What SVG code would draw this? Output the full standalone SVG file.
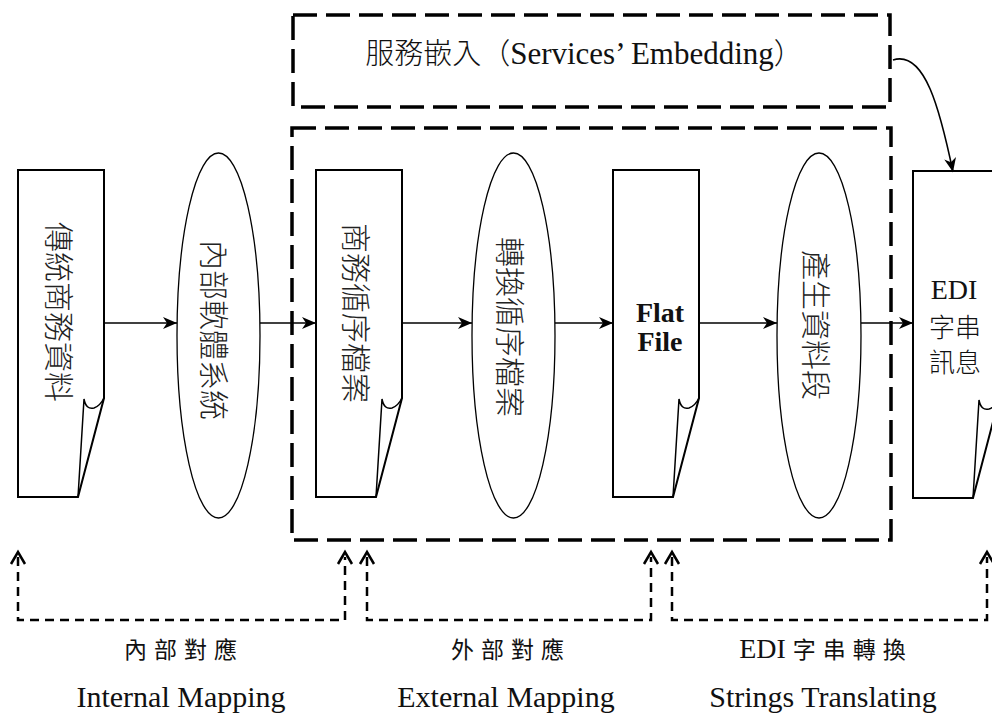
<svg xmlns="http://www.w3.org/2000/svg" xmlns:xlink="http://www.w3.org/1999/xlink" width="992" height="717" viewBox="0 0 992 717">
<style>
.doc{fill:#fff;stroke:#000;stroke-width:2;stroke-linejoin:miter}
.curl{fill:none;stroke:#000;stroke-width:1.5}
.ell{fill:#fff;stroke:#000;stroke-width:1.3}
.vt{font-family:"Noto Sans CJK TC","Noto Sans CJK SC",sans-serif;font-weight:300;font-size:30px;fill:#222}
.flow{stroke:#000;stroke-width:1.6;fill:none;marker-end:url(#ah)}
.bigdash{fill:none;stroke:#000;stroke-width:3.5;stroke-dasharray:24 9}
.map{fill:none;stroke:#000;stroke-width:2.5;stroke-dasharray:9 6}
.chev{fill:none;stroke:#000;stroke-width:2.5}
.cjk{font-family:"Noto Sans CJK TC","Noto Sans CJK SC",sans-serif;fill:#111}
.lat{font-family:"Liberation Serif",serif;fill:#111}
</style>
<defs>
<marker id="ah" markerUnits="userSpaceOnUse" markerWidth="16" markerHeight="12" refX="14" refY="6" orient="auto">
<path d="M0,0 L14,6 L0,12 L4,6 Z" fill="#000"/>
</marker>
<g id="docshape">
<path class="doc" d="M0,0 H86 V228 L60,327 H0 Z"/>
<path class="curl" d="M60,327 L66,229 Q68,240 76,238 Q82,236 86,228"/>
</g>
</defs>

<g id="services-box">
<rect class="bigdash" x="293" y="15" width="597" height="92"/>
<text x="584" y="64" text-anchor="middle"><tspan class="cjk" font-weight="300" font-size="29">服務嵌入（</tspan><tspan class="lat" font-size="31">Services’ Embedding</tspan><tspan class="cjk" font-weight="300" font-size="29">）</tspan></text>
</g>

<g id="process-box">
<rect class="bigdash" x="292" y="128" width="599" height="412"/>
</g>

<g id="n1">
<use xlink:href="#docshape" x="18" y="170"/>
<text class="vt" transform="translate(61,312) rotate(90)" text-anchor="middle" dominant-baseline="central">傳統商務資料</text>
</g>
<g id="n2">
<ellipse class="ell" cx="218.5" cy="335.5" rx="41.5" ry="182.5"/>
<text class="vt" transform="translate(216,330) rotate(90)" text-anchor="middle" dominant-baseline="central">內部軟體系統</text>
</g>
<g id="n3">
<use xlink:href="#docshape" x="316" y="170"/>
<text class="vt" transform="translate(358,313) rotate(90)" text-anchor="middle" dominant-baseline="central">商務循序檔案</text>
</g>
<g id="n4">
<ellipse class="ell" cx="513.5" cy="335.5" rx="41.5" ry="182.5"/>
<text class="vt" transform="translate(512,327) rotate(90)" text-anchor="middle" dominant-baseline="central">轉換循序檔案</text>
</g>
<g id="n5">
<use xlink:href="#docshape" x="613" y="170"/>
<text x="660" y="322" text-anchor="middle" class="lat" font-weight="bold" font-size="28">Flat</text>
<text x="660" y="351" text-anchor="middle" class="lat" font-weight="bold" font-size="28">File</text>
</g>
<g id="n6">
<ellipse class="ell" cx="819" cy="335.5" rx="42" ry="182.5"/>
<text class="vt" transform="translate(818,325) rotate(90)" text-anchor="middle" dominant-baseline="central">產生資料段</text>
</g>
<g id="n7">
<use xlink:href="#docshape" x="913" y="171"/>
<text x="954" y="299" text-anchor="middle" class="lat" font-size="28">EDI</text>
<text x="955" y="337" text-anchor="middle" class="cjk" font-weight="300" font-size="26">字串</text>
<text x="955" y="372" text-anchor="middle" class="cjk" font-weight="300" font-size="26">訊息</text>
</g>

<g id="connectors">
<line class="flow" x1="104" y1="323" x2="177" y2="323"/>
<line class="flow" x1="260" y1="323" x2="316" y2="323"/>
<line class="flow" x1="402" y1="323" x2="472" y2="323"/>
<line class="flow" x1="555" y1="323" x2="613" y2="323"/>
<line class="flow" x1="699" y1="323" x2="777" y2="323"/>
<line class="flow" x1="861" y1="323" x2="913" y2="323"/>
<path class="flow" d="M893,60 C925,50 940,110 953,172"/>
<path class="map" d="M18,557 V620 H345 V557"/>
<path class="chev" d="M11,564 L18,552 L25,564 M338,564 L345,552 L352,564"/>
<path class="map" d="M367,557 V620 H651 V557"/>
<path class="chev" d="M360,564 L367,552 L374,564 M644,564 L651,552 L658,564"/>
<path class="map" d="M672,557 V620 H987 V557"/>
<path class="chev" d="M665,564 L672,552 L679,564 M980,564 L987,552 L994,564"/>
</g>

<g id="labels">
<text x="184" y="658" text-anchor="middle" class="cjk" font-size="23" letter-spacing="7">內部對應</text>
<text x="181" y="707" text-anchor="middle" class="lat" font-size="30">Internal Mapping</text>
<text x="511" y="658" text-anchor="middle" class="cjk" font-size="23" letter-spacing="7">外部對應</text>
<text x="506" y="707" text-anchor="middle" class="lat" font-size="30">External Mapping</text>
<text x="826" y="658" text-anchor="middle"><tspan class="lat" font-size="28">EDI </tspan><tspan class="cjk" font-size="23" letter-spacing="7">字串轉換</tspan></text>
<text x="823" y="707" text-anchor="middle" class="lat" font-size="30">Strings Translating</text>
</g>
</svg>
